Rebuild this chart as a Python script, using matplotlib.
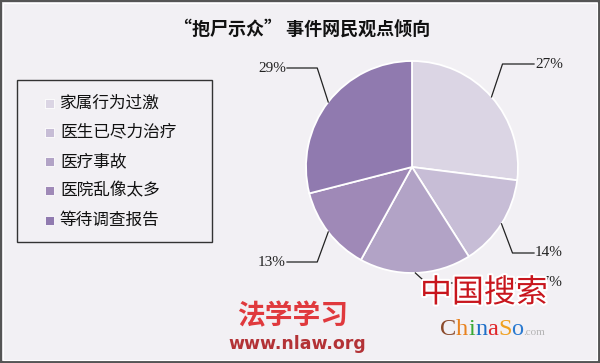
import matplotlib
matplotlib.use('Agg')
import matplotlib.pyplot as plt
import matplotlib.patheffects as pe
from matplotlib.patches import Rectangle
import numpy as np

plt.rcParams['font.family'] = ['Noto Sans CJK SC', 'DejaVu Sans']

title = '“抱尸示众” 事件网民观点倾向'
categories = ['家属行为过激', '医生已尽力治疗', '医疗事故', '医院乱像太多', '等待调查报告']
shares = [27, 14, 17, 13, 29]
pct_labels = ['27%', '14%', '17%', '13%', '29%']
colors = ['#dbd5e4', '#c7bdd6', '#b2a3c6', '#9f89b7', '#907aaf']

W, H = 600, 363
bg = '#f2f0f4'


def py(y):
    # pixel row (from top) -> data y
    return H - y


fig = plt.figure(figsize=(6, 3.63), dpi=100, facecolor=bg)
ax = fig.add_axes([0, 0, 1, 1])
ax.set_facecolor(bg)

# pie
cx, cy, R = 412, py(167), 106
wedges, _ = ax.pie(shares, colors=colors, startangle=90, counterclock=False,
                   center=(cx, cy), radius=R,
                   wedgeprops=dict(edgecolor='white', linewidth=1.3))

# leader lines + percent labels
label_rows = [64, 253, 283, 262, 68]
for w, lab, row in zip(wedges, pct_labels, label_rows):
    mid = np.deg2rad((w.theta1 + w.theta2) / 2)
    sx, sy = cx + R * np.cos(mid), cy + R * np.sin(mid)
    side = 1 if np.cos(mid) >= 0 else -1
    ex = sx + 11 * side
    ly = py(row)
    endx = 534 if side > 0 else 287
    ax.plot([sx, ex, endx], [sy, ly, ly], color='#222222', lw=0.9, zorder=3)
    ax.text(endx + (1 if side > 0 else -1), ly, lab, ha='left' if side > 0 else 'right',
            va='center', fontsize=11, family='Liberation Serif', color='#222222', zorder=3)

# title
ax.text(302, py(29), title, ha='center', va='center', fontsize=13, fontweight='bold', color='#111111')

# legend box
ax.add_patch(Rectangle((17, py(242)), 195, 162, facecolor='none', edgecolor='#333333', lw=1.0))
for i, (cat, col) in enumerate(zip(categories, colors)):
    yy = py(103 + i * 29.3)
    ax.add_patch(Rectangle((45, yy - 4.5), 9, 9, facecolor=col, edgecolor='white', lw=0.6))
    ax.text(60, yy, cat, ha='left', va='center', fontsize=12, color='#111111')

# frame
ax.add_patch(Rectangle((1, 1), W - 2, H - 2, facecolor='none', edgecolor='#555555', lw=1.6, zorder=6))
ax.add_patch(Rectangle((3, 3), W - 6, H - 6, facecolor='none', edgecolor='white', lw=0.8, zorder=6))

# watermarks
ax.text(293, py(316), '法学学习', ha='center', va='center', fontsize=20, fontweight='bold',
        color='#e0393d', zorder=7)
ax.text(297, py(344), 'www.nlaw.org', ha='center', va='center', fontsize=12.5, fontweight='bold',
        family='DejaVu Sans', color='#b33236', zorder=7)
ax.text(484, py(293), '中国搜索', ha='center', va='center', fontsize=23, color='#c8161d', zorder=7,
        path_effects=[pe.withStroke(linewidth=3, foreground='white')])

fig.canvas.draw()
renderer = fig.canvas.get_renderer()
parts = [('C', '#8b4a2b', 17.5), ('h', '#e8821e', 17.5), ('i', '#3aa935', 17.5), ('n', '#1e6fc8', 17.5),
         ('a', '#e0262a', 17.5), ('S', '#f0a020', 17.5), ('o', '#2a7ad0', 17.5), ('.com', '#b5b5b5', 8)]
x = 440
for s, c, fs in parts:
    t = ax.text(x, py(335), s, ha='left', va='baseline', fontsize=fs, family='Liberation Serif',
                color=c, zorder=7)
    bb = t.get_window_extent(renderer)
    x += bb.width * W / fig.bbox.width

ax.set_xlim(0, W)
ax.set_ylim(0, H)
ax.axis('off')

fig.savefig('out.png', dpi=100, facecolor=bg)
